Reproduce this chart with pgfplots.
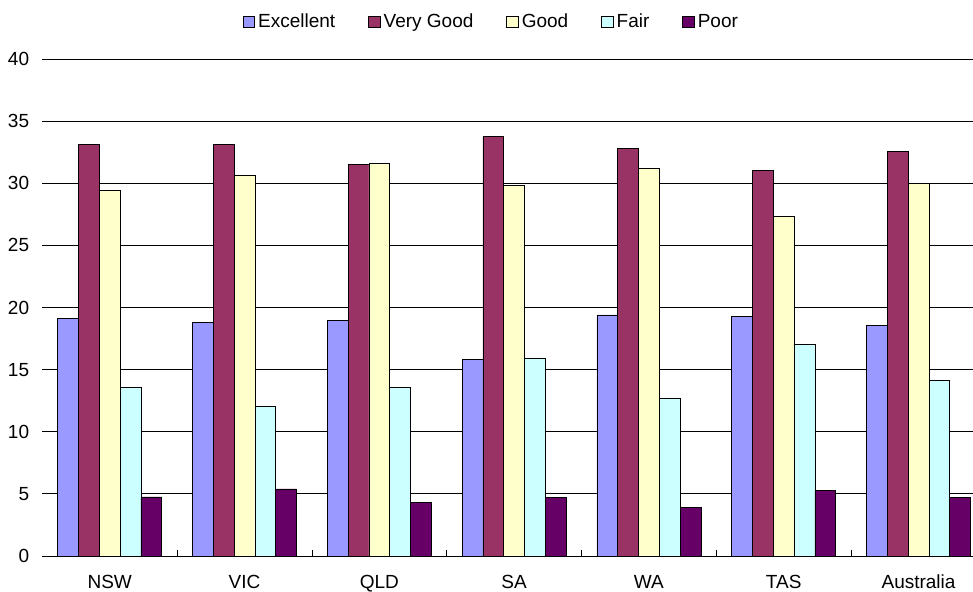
\documentclass[border=0pt]{standalone}
\usepackage{fontspec}
\setmainfont{Liberation Sans}
\usepackage{pgfplots}
\pgfplotsset{compat=1.18}
\definecolor{cExc}{HTML}{9999FF}
\definecolor{cVG}{HTML}{993366}
\definecolor{cGood}{HTML}{FFFFCC}
\definecolor{cFair}{HTML}{CCFFFF}
\definecolor{cPoor}{HTML}{660066}
\begin{document}
\fontsize{19pt}{23pt}\selectfont
\begin{tikzpicture}
\begin{axis}[
  scale only axis, width=930.7pt, height=497pt,
  xmin=-0.5, xmax=6.404, ymin=0, ymax=40,
  ybar=0pt, bar width=20.8pt,
  axis x line*=bottom, axis y line*=left, y axis line style={draw=none},
  x axis line style={black, line width=0.8pt},
  xtick={0,...,6}, xticklabels={NSW,VIC,QLD,SA,WA,TAS,Australia},
  minor xtick={0.5,1.5,...,5.5},
  major tick length=0pt, minor tick length=6pt, tick align=inside,
  tick style={black, line width=0.8pt},
  ytick={0,5,...,40},
  ymajorgrids, grid style={black, line width=0.8pt},
  xticklabel style={anchor=base, yshift=-32.5pt, inner sep=0pt},
  yticklabel style={anchor=east, inner sep=0pt, xshift=-13pt},
  /pgf/number format/assume math mode=true,
  tick label style={font=\fontsize{19pt}{23pt}\selectfont},
  legend columns=5,
  legend style={at={(0.483,1.0744)}, anchor=center, draw=none, fill=none,
    font=\fontsize{19pt}{23pt}\selectfont,
    /tikz/every even column/.append style={column sep=30pt},
    nodes={inner sep=3pt}},
  legend image code/.code={\draw[#1,draw=black,line width=0.8pt] (0pt,-5.8pt) rectangle (11.6pt,5.8pt);},
]
\addplot[fill=cExc, draw=black, line width=0.8pt] coordinates {(0,19.1) (1,18.8) (2,18.95) (3,15.8) (4,19.4) (5,19.3) (6,18.55)};
\addplot[fill=cVG, draw=black, line width=0.8pt] coordinates {(0,33.1) (1,33.1) (2,31.5) (3,33.8) (4,32.8) (5,31.05) (6,32.55)};
\addplot[fill=cGood, draw=black, line width=0.8pt] coordinates {(0,29.4) (1,30.6) (2,31.6) (3,29.8) (4,31.2) (5,27.3) (6,29.95)};
\addplot[fill=cFair, draw=black, line width=0.8pt] coordinates {(0,13.6) (1,12.0) (2,13.6) (3,15.9) (4,12.65) (5,17.0) (6,14.15)};
\addplot[fill=cPoor, draw=black, line width=0.8pt] coordinates {(0,4.75) (1,5.4) (2,4.3) (3,4.7) (4,3.9) (5,5.3) (6,4.72)};
\legend{Excellent,Very Good,Good,Fair,Poor}
\end{axis}
\pgfresetboundingbox
\useasboundingbox (-42.3pt,-35pt) rectangle (930.7pt,556pt);
\end{tikzpicture}
\end{document}
